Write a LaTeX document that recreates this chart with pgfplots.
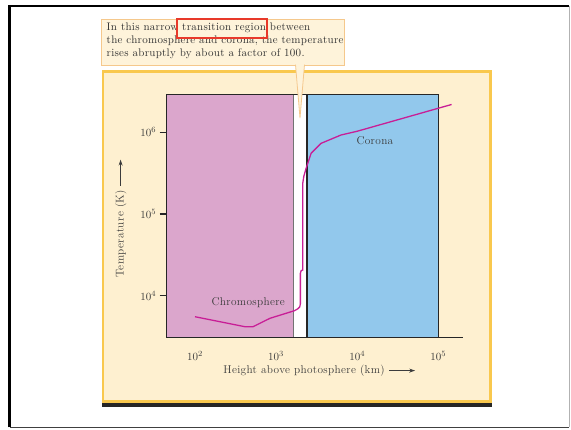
\documentclass[border=0pt]{standalone}
\usepackage{fontspec}
\newfontfamily\notefont{Latin Modern Roman}[LetterSpace=2.5]
\newfontfamily\labfont{Latin Modern Roman}[LetterSpace=3]
\usepackage{pgfplots}
\pgfplotsset{compat=1.18}
\usetikzlibrary{arrows.meta}
\definecolor{pinkreg}{RGB}{219,166,204}
\definecolor{bluereg}{RGB}{146,200,236}
\definecolor{panelfill}{RGB}{254,240,208}
\definecolor{panelborder}{RGB}{249,200,78}
\definecolor{notefill}{RGB}{254,243,218}
\definecolor{noteborder}{RGB}{245,200,140}
\definecolor{curvec}{RGB}{200,30,150}
\definecolor{txt}{RGB}{60,60,60}
\definecolor{redbox}{RGB}{232,57,42}
\newcommand{\tf}{\labfont\fontsize{11.3}{13}\selectfont}
\newcommand{\nf}{\notefont\fontsize{11}{13}\selectfont}
\begin{document}
\begin{tikzpicture}[x=1pt,y=1pt]
\path (0,0) rectangle (571,429);
% outer frame
\draw[black!75, line width=1.2pt] (9.5,1.7) -- (569.3,1.7);
\draw[black!30, line width=1pt] (569.3,1.7) -- (569.3,423);
\draw[black, line width=2.4pt] (9.5,1.7) -- (9.5,423) -- (569.3,423);
% panel
\fill[black!85] (101.7,22.3) rectangle (491.7,26.2);
\filldraw[fill=panelfill, draw=panelborder, line width=2.5pt] (103,27.5) rectangle (490.5,357.7);
% annotation box
\filldraw[fill=notefill, draw=noteborder, line width=0.8pt] (101.7,364) rectangle (344.3,410);
\node[anchor=base west, inner sep=0pt, text=black!80, font=\nf] at (106.5,398) {In this narrow transition region between};
\node[anchor=base west, inner sep=0pt, text=black!80, font=\nf] at (106.5,385) {the chromosphere and corona, the temperature};
\node[anchor=base west, inner sep=0pt, text=black!80, font=\nf] at (106.5,372) {rises abruptly by about a factor of 100.};
\draw[redbox, line width=1.3pt] (177,391) rectangle (267,410);
\begin{axis}[
  at={(166.7pt,91.3pt)}, anchor=south west,
  scale only axis, width=296.3pt, height=243.4pt,
  xmode=log, ymode=log,
  xmin=44.8, xmax=2.02e5, ymin=3062, ymax=2.92e6,
  axis lines=left,
  axis line style={-, line width=1.4pt, black!85},
  xtick={1e2,1e3,1e4,1e5}, ytick={1e4,1e5,1e6},
  xminorticks=false, yminorticks=false,
  tick align=outside, major tick length=7pt,
  xtick style={draw=none},
  ytick style={line width=1.2pt, black!85},
  ticklabel style={font=\fontsize{11}{13}\selectfont, text=txt},
  xticklabel style={yshift=-3pt},
  axis on top, clip=false,
]
\addplot[fill=pinkreg, draw=none] coordinates {(44.8,3062) (1652,3062) (1652,2.92e6) (44.8,2.92e6)} -- cycle;
\addplot[fill=white, draw=none] coordinates {(1652,3062) (2410,3062) (2410,2.92e6) (1652,2.92e6)} -- cycle;
\addplot[draw=black!55, line width=0.7pt] coordinates {(1652,3062) (1652,2.92e6)};
\addplot[fill=bluereg, draw=black!85, line width=1.2pt] coordinates {(2410,3062) (1e5,3062) (1e5,2.92e6) (2410,2.92e6)} -- cycle;
\addplot[black!85, line width=1.4pt] coordinates {(44.8,2.92e6) (1e5,2.92e6)};
\addplot[curvec, line width=1.3pt] coordinates {
(100,5530) (414,4170) (519,4170) (841,5290) (1683,6550) (1850,6900) (1960,7300)
(1995,8000) (1995,18800) (2040,20300) (2134,20600) (2134,2.38e5)
(2200,2.9e5) (2345,3.62e5) (2704,5.54e5) (3590,7.33e5) (6320,9.27e5)
(1e4,1.03e6) (33700,1.45e6) (1e5,1.97e6) (1.46e5,2.19e6)};
\node[text=txt, font=\tf] at (axis cs:454,8210) {Chromosphere};
\node[text=txt, font=\tf] at (axis cs:16560,7.89e5) {Corona};
\end{axis}
% pointer
\fill[notefill] (295.5,365) -- (304.5,365) -- (300,311) -- cycle;
\draw[noteborder, line width=0.8pt] (295.5,364.4) -- (300,311) -- (304.5,364.4);
% axis labels
\node[text=txt, font=\tf] at (319.5,58.3) {Height above photosphere (km)\ \tikz[baseline=-0.6ex]\draw[line width=0.9pt, -{Stealth[length=6pt,width=4pt]}] (0,0) -- (26pt,0);};
\node[text=txt, font=\tf, rotate=90] at (120.7,210.7) {Temperature (K)\ \tikz[baseline=-0.6ex]\draw[line width=0.9pt, -{Stealth[length=6pt,width=4pt]}] (0,0) -- (26pt,0);};
\end{tikzpicture}
\end{document}
